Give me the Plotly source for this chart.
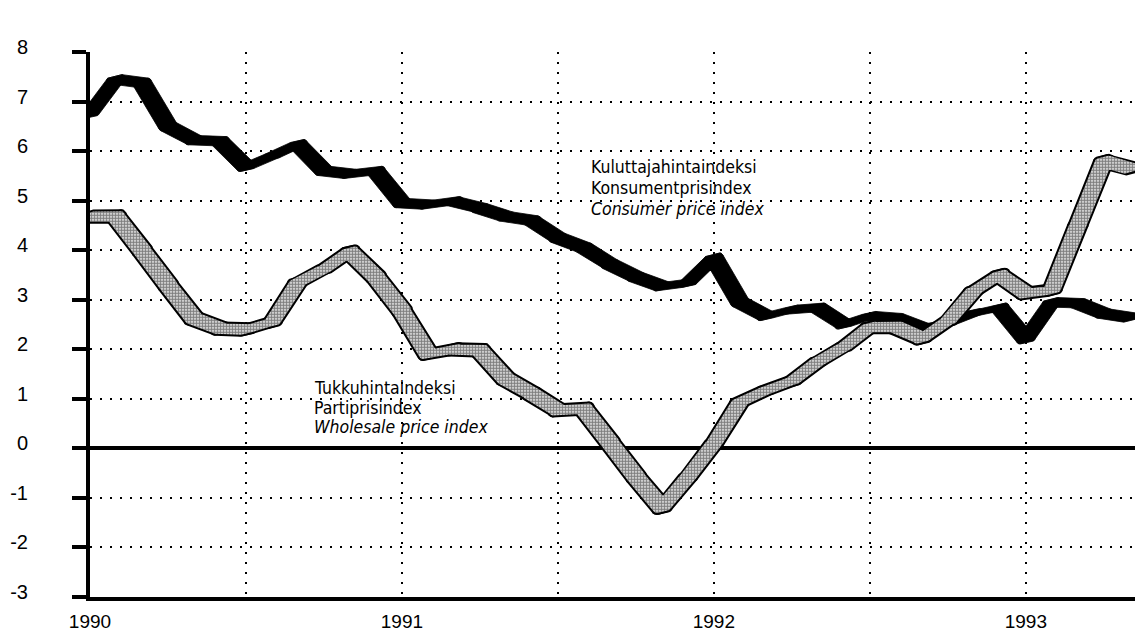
import math
import plotly.graph_objects as go

# ---- data (monthly, Jan 1990 = month 0) ----
months = list(range(41))
cpi = [6.75, 7.45, 7.38, 6.50, 6.22, 6.20, 5.68, 5.90, 6.14, 5.60,
       5.54, 5.60, 4.95, 4.92, 4.99, 4.85, 4.68, 4.60, 4.25, 4.05,
       3.72, 3.46, 3.27, 3.34, 3.85, 2.95, 2.67, 2.80, 2.84, 2.50,
       2.67, 2.63, 2.43, 2.53, 2.73, 2.84, 2.20, 2.95, 2.93, 2.72,
       2.64]
wpi = [4.68, 4.68, 4.00, 3.30, 2.62, 2.42, 2.40, 2.55, 3.35, 3.62,
       3.97, 3.46, 2.78, 1.91, 2.00, 1.98, 1.40, 1.10, 0.77, 0.80,
       0.12, -0.57, -1.20, -0.58, 0.10, 0.93, 1.17, 1.36, 1.75, 2.05,
       2.45, 2.45, 2.22, 2.57, 3.18, 3.50, 3.13, 3.20, 4.50, 5.80,
       5.65]
grid_months = [0, 6, 12, 18, 24, 30, 36]
grid_labels = ["1990", "", "1991", "", "1992", "", "1993"]
y_ticks = list(range(-3, 9))
y_labels = [str(v) for v in y_ticks]

cpi_label = ["Kuluttajahintaindeksi", "Konsumentprisindex", "<i>Consumer price index</i>"]
wpi_label = ["Tukkuhintaindeksi", "Partiprisindex", "<i>Wholesale price index</i>"]

# ---- broad pen: a slanted nib ("/") with rounded ends, in screen pixels ----
PX_PER_MONTH = 26.0
PX_PER_UNIT = 49.55


def pen_points(nib_a, nib_b, r):
    pts = []
    for sx, sy in ((-nib_a, -nib_b), (nib_a, nib_b)):
        for k in range(16):
            t = 2 * math.pi * k / 16
            pts.append(((sx + r * math.cos(t)) / PX_PER_MONTH,
                        (sy + r * math.sin(t)) / PX_PER_UNIT))
    return pts


def hull(points):
    pts = sorted(set(points))

    def cross(o, a, b):
        return (a[0] - o[0]) * (b[1] - o[1]) - (a[1] - o[1]) * (b[0] - o[0])

    lower, upper = [], []
    for p in pts:
        while len(lower) >= 2 and cross(lower[-2], lower[-1], p) <= 0:
            lower.pop()
        lower.append(p)
    for p in reversed(pts):
        while len(upper) >= 2 and cross(upper[-2], upper[-1], p) <= 0:
            upper.pop()
        upper.append(p)
    return lower[:-1] + upper[:-1]


def pen_band(xs, ys, pen):
    bx, by = [], []
    for i in range(len(xs) - 1):
        pts = [(xs[i] + dx, ys[i] + dy) for dx, dy in pen]
        pts += [(xs[i + 1] + dx, ys[i + 1] + dy) for dx, dy in pen]
        h = hull(pts)
        h.append(h[0])
        bx += [p[0] for p in h] + [None]
        by += [p[1] for p in h] + [None]
    return bx, by


cx, cy = pen_band(months, cpi, pen_points(6.0, 1.3, 3.3))
wx, wy = pen_band(months, wpi, pen_points(5.0, 1.2, 4.0))

fig = go.Figure()
fig.add_trace(go.Scatter(x=cx, y=cy, mode="lines", fill="toself",
                         fillcolor="black", line=dict(color="black", width=0.8),
                         hoverinfo="skip"))
fig.add_trace(go.Scatter(x=wx, y=wy, mode="lines", fill="toself",
                         fillcolor="black", line=dict(color="black", width=4),
                         hoverinfo="skip"))
fig.add_trace(go.Scatter(x=wx, y=wy, mode="lines", fill="toself",
                         fillcolor="white", line=dict(width=0),
                         fillpattern=dict(shape=".", fgcolor="black", bgcolor="white",
                                          size=3, solidity=0.7),
                         hoverinfo="skip"))

narrow = "Liberation Sans Narrow, Arial Narrow, DejaVu Sans Condensed, Liberation Sans, sans-serif"
for i, t in enumerate(cpi_label):
    fig.add_annotation(x=19.19, y=5.67 - i * 0.42, xref="x", yref="y", text=t,
                       showarrow=False, xanchor="left", yanchor="middle",
                       font=dict(family=narrow, size=17.5, color="black"))
for i, t in enumerate(wpi_label):
    fig.add_annotation(x=8.53, y=1.21 - i * 0.39, xref="x", yref="y", text=t,
                       showarrow=False, xanchor="left", yanchor="middle",
                       font=dict(family=narrow, size=17.5, color="black"))

fig.add_annotation(x=-1.92, y=8.6, xref="x", yref="y", text="%", showarrow=False,
                   font=dict(family="Liberation Sans, Arial, sans-serif", size=20, color="black"))

# the page adds an 8px body margin, so the figure is sized to fit inside it
fig.update_layout(
    width=1127, height=626,
    margin=dict(l=82, r=0, t=44, b=37, autoexpand=False),
    plot_bgcolor="white", paper_bgcolor="white",
    showlegend=False,
    font=dict(family="Liberation Sans, Arial, sans-serif", size=20, color="black"),
    xaxis=dict(range=[0, 40.2], tickvals=grid_months, ticktext=grid_labels,
               tickfont=dict(size=19),
               showgrid=True, gridcolor="black", gridwidth=2, griddash="2px,8px",
               showline=True, linewidth=4, linecolor="black", ticks="",
               zeroline=False, ticklabelstandoff=4, automargin=False, fixedrange=True),
    yaxis=dict(range=[-3, 8], tickvals=y_ticks, ticktext=y_labels,
               showgrid=True, gridcolor="black", gridwidth=2, griddash="2px,8px",
               zeroline=True, zerolinecolor="black", zerolinewidth=4,
               showline=True, linewidth=4, linecolor="black",
               ticks="outside", ticklen=14, tickwidth=4, tickcolor="black",
               ticklabelstandoff=40, ticklabelshift=-5, automargin=False,
               fixedrange=True),
)

fig.write_html("out.html")
